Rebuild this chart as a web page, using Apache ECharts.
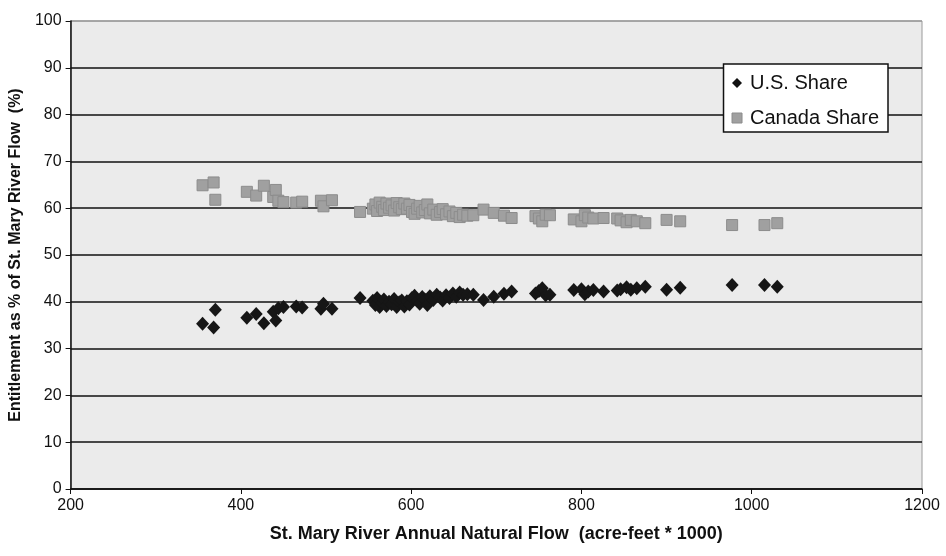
<!DOCTYPE html>
<html>
<head>
<meta charset="utf-8">
<script src="https://cdn.jsdelivr.net/npm/echarts@6/dist/echarts.min.js"></script>
<style>
  html, body { margin: 0; padding: 0; background: #fff; }
  #chart { width: 946px; height: 556px; }
</style>
</head>
<body>
<div id="chart"></div>
<script>
// annual natural flow (acre-feet * 1000), one entry per year
var flow = [355, 368, 370, 407, 418, 427, 438, 441, 444, 450, 465, 472, 494, 497, 507,
    540, 555, 558, 560, 563, 566, 568, 571, 574, 577, 580, 583, 586, 589, 592, 595, 598,
    601, 604, 607, 610, 613, 616, 619, 622, 626, 630, 634, 637, 641, 645, 649, 653, 657,
    661, 666, 673, 685, 697, 709, 718, 746, 750, 754, 758, 763, 791, 800, 804, 808, 814,
    826, 842, 846, 853, 858, 865, 875, 900, 916, 977, 1015, 1030];
// U.S. share (%)
var usShare = [35.3, 34.5, 38.3, 36.6, 37.4, 35.4, 37.9, 36.0, 38.6, 38.9, 39.0, 38.8, 38.5, 39.6, 38.5,
    40.8, 40.2, 39.3, 40.8, 38.9, 39.8, 40.5, 39.1, 40.0, 39.5, 40.6, 38.9, 39.9, 40.3, 39.0, 40.1, 39.4,
    40.8, 41.3, 40.2, 39.6, 41.0, 40.5, 39.3, 41.2, 40.4, 41.5, 40.9, 40.3, 41.4, 40.8, 41.8, 41.1, 42.0,
    41.5, 41.6, 41.5, 40.4, 41.1, 41.7, 42.2, 41.8, 42.3, 42.9, 41.4, 41.5, 42.5, 42.7, 41.6, 42.2, 42.5,
    42.2, 42.4, 42.7, 43.1, 42.6, 42.9, 43.2, 42.6, 43.0, 43.6, 43.6, 43.2];
// Canada share (%)
var canadaShare = [64.9, 65.5, 61.8, 63.5, 62.7, 64.8, 62.4, 63.9, 61.6, 61.3, 61.2, 61.4, 61.6, 60.4, 61.7,
    59.2, 59.9, 60.8, 59.4, 61.2, 60.3, 59.6, 61.0, 60.1, 60.6, 59.5, 61.1, 60.2, 59.8, 61.0, 59.9, 60.7,
    59.2, 58.8, 59.9, 60.5, 59.1, 59.6, 60.8, 58.9, 59.7, 58.6, 59.2, 59.8, 58.7, 59.3, 58.3, 59.0, 58.1,
    58.6, 58.4, 58.5, 59.7, 59.0, 58.4, 57.9, 58.3, 57.8, 57.2, 58.6, 58.5, 57.6, 57.2, 58.5, 58.0, 57.8,
    57.9, 57.8, 57.4, 57.0, 57.5, 57.2, 56.8, 57.5, 57.2, 56.4, 56.4, 56.8];

var usData = flow.map(function (x, i) { return [x, usShare[i]]; });
var canadaData = flow.map(function (x, i) { return [x, canadaShare[i]]; });

// last grid line (100) is the light plot border
var gridColors = ['#111', '#111', '#111', '#111', '#111', '#111', '#111', '#111', '#111', '#111', '#9a9a9a'];

var myChart = echarts.init(document.getElementById('chart'));
var option = {
    backgroundColor: '#fff',
    textStyle: { fontFamily: 'Liberation Sans, Arial, sans-serif' },
    grid: {
        left: 70, right: 24, top: 21, bottom: 67,
        show: true,
        backgroundColor: '#ebebeb',
        borderColor: '#9a9a9a',
        borderWidth: 1
    },
    legend: {
        orient: 'vertical',
        right: 58, top: 64,
        backgroundColor: '#fff',
        borderColor: '#111',
        borderWidth: 1.5,
        borderRadius: 0,
        padding: [9, 9, 4, 8],
        itemGap: 15,
        itemWidth: 10,
        itemHeight: 10,
        textStyle: { fontSize: 20, color: '#111', padding: [0, 0, 0, 3] },
        data: [
            { name: 'U.S. Share', icon: 'diamond', itemStyle: { color: '#111' } },
            { name: 'Canada Share', icon: 'rect', itemStyle: { color: '#a0a0a0', borderColor: '#8c8c8c', borderWidth: 1 } }
        ]
    },
    xAxis: {
        type: 'value',
        min: 200, max: 1200, interval: 200,
        name: 'St. Mary River Annual Natural Flow  (acre-feet * 1000)',
        nameLocation: 'middle',
        nameGap: 36,
        nameTextStyle: { fontSize: 18, fontWeight: 'bold', color: '#111' },
        axisLine: { lineStyle: { color: '#111', width: 1.5 } },
        axisTick: { show: true, length: 5, lineStyle: { color: '#111' } },
        axisLabel: { fontSize: 16, color: '#111', margin: 9, formatter: function (v) { return String(v); } },
        splitLine: { show: false }
    },
    yAxis: {
        type: 'value',
        min: 0, max: 100, interval: 10,
        name: 'Entitlement as % of St. Mary River Flow  (%)',
        nameLocation: 'middle',
        nameGap: 39,
        nameTextStyle: { fontSize: 16, fontWeight: 'bold', color: '#111' },
        axisLine: { show: true, lineStyle: { color: '#111', width: 1.5 } },
        axisTick: { show: true, length: 5, lineStyle: { color: '#111' } },
        axisLabel: { fontSize: 16, color: '#111', margin: 9 },
        splitLine: { show: true, lineStyle: { color: gridColors, width: 1.5 } }
    },
    series: [
        {
            name: 'U.S. Share',
            type: 'scatter',
            symbol: 'diamond',
            symbolSize: [13, 14],
            itemStyle: { color: '#161616', opacity: 1 },
            data: usData
        },
        {
            name: 'Canada Share',
            type: 'scatter',
            symbol: 'rect',
            symbolSize: 11,
            itemStyle: { color: '#a0a0a0', borderColor: '#8c8c8c', borderWidth: 1, opacity: 1 },
            data: canadaData
        }
    ]
};
myChart.setOption(option);
</script>
</body>
</html>
